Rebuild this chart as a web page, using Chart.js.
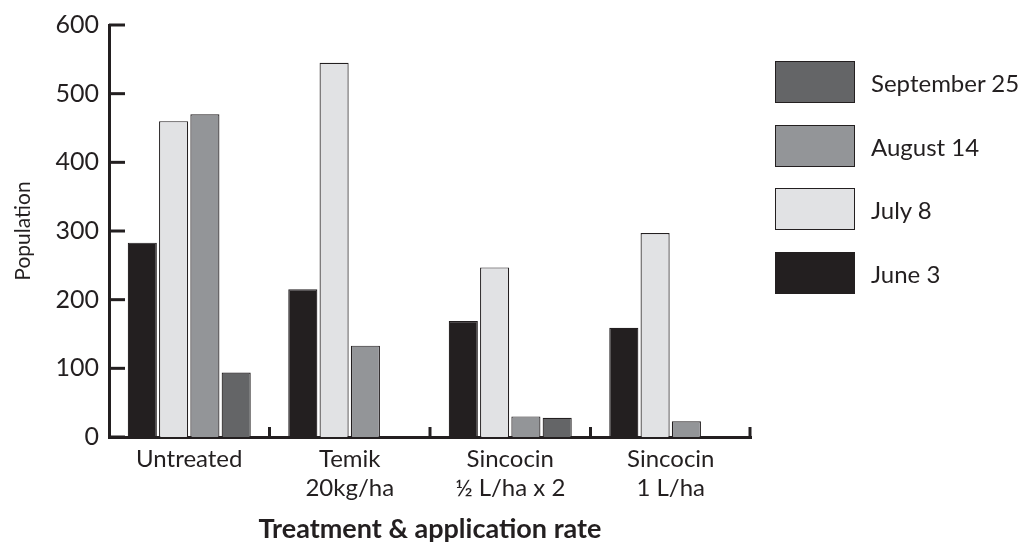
<!DOCTYPE html>
<html>
<head>
<meta charset="utf-8">
<script src="https://cdn.jsdelivr.net/npm/chart.js@4.4.0/dist/chart.umd.min.js"></script>
<style>
  html, body { margin: 0; padding: 0; background: #fff; }
  #wrap { position: relative; width: 1028px; height: 548px; }
  #legend { position: absolute; left: 775px; top: 61px; font-family: Lato, sans-serif; font-size: 24px; color: #231f20; }
  .item { position: absolute; left: 0; height: 43px; white-space: nowrap; }
  .box { position: absolute; left: 0; top: 0; width: 78px; height: 40px; border: 1.5px solid #231f20; }
  .lbl { position: absolute; left: 96px; top: 0; line-height: 43px; }
</style>
</head>
<body>
<div id="wrap">
  <canvas id="chart" width="1028" height="548"></canvas>
  <div id="legend"></div>
</div>
<script>
// categories and series
const categories = ['Untreated', ['Temik', '20kg/ha'], ['Sincocin', '½ L/ha x 2'], ['Sincocin', '1 L/ha']];
const seriesNames = ['June 3', 'July 8', 'August 14', 'September 25'];
const june3 = [283, 215, 169, 159];
const july8 = [460, 545, 247, 297];
const august14 = [470, 133, 30, 23];
const september25 = [94, null, 28, null];
const seriesColors = ['#231f20', '#e1e2e4', '#939598', '#646567'];
const yTickValues = [0, 100, 200, 300, 400, 500, 600];

const ink = '#231f20';
const seriesData = [june3, july8, august14, september25];

// legend (reverse order, like the original)
const legendEl = document.getElementById('legend');
seriesNames.slice().reverse().forEach((name, i) => {
  const idx = seriesNames.indexOf(name);
  const item = document.createElement('div');
  item.className = 'item';
  item.style.top = (i * 63.7) + 'px';
  item.innerHTML = '<div class="box" style="background:' + seriesColors[idx] + '"></div><div class="lbl">' + name + '</div>';
  legendEl.appendChild(item);
});

// inward tick marks on both axes
const innerTicks = {
  id: 'innerTicks',
  afterDraw(chart) {
    const { ctx, chartArea, scales: { x, y } } = chart;
    ctx.save();
    ctx.strokeStyle = ink;
    ctx.lineWidth = 3;
    yTickValues.forEach(v => {
      const py = y.getPixelForValue(v);
      ctx.beginPath(); ctx.moveTo(chartArea.left, py); ctx.lineTo(chartArea.left + 16, py); ctx.stroke();
    });
    const half = (x.getPixelForValue(1) - x.getPixelForValue(0)) / 2;
    categories.forEach((c, i) => {
      const px = Math.min(x.getPixelForValue(i) + half, chartArea.right - 1);
      ctx.beginPath(); ctx.moveTo(px, chartArea.bottom); ctx.lineTo(px, chartArea.bottom - 10); ctx.stroke();
    });
    ctx.restore();
  }
};

Chart.defaults.font.family = 'Lato, sans-serif';
Chart.defaults.color = ink;

new Chart(document.getElementById('chart').getContext('2d'), {
  type: 'bar',
  data: {
    labels: categories,
    datasets: seriesNames.map((name, i) => ({
      label: name, data: seriesData[i], backgroundColor: seriesColors[i],
      borderColor: ink, borderWidth: 1.2, borderSkipped: 'bottom',
      categoryPercentage: 0.78, barPercentage: 0.93
    }))
  },
  options: {
    responsive: false, animation: false,
    layout: { padding: { top: 14, right: 277, left: 0, bottom: 0 } },
    plugins: { legend: { display: false }, tooltip: { enabled: false } },
    scales: {
      x: {
        grid: { display: false, drawTicks: false },
        border: { display: true, width: 3, color: ink },
        ticks: { font: { size: 24 }, padding: 8, maxRotation: 0, autoSkip: false },
        title: { display: true, text: 'Treatment & application rate', font: { size: 27, weight: 'bold' }, padding: { top: 0, bottom: 3 } },
        afterFit: s => { s.height = 111; }
      },
      y: {
        min: 0, max: 600,
        grid: { display: false, drawTicks: false },
        border: { display: true, width: 3, color: ink },
        ticks: { stepSize: 100, font: { size: 25 }, padding: 10 },
        title: { display: true, text: 'Population', font: { size: 21 }, padding: { top: 11, bottom: 0 } },
        afterFit: s => { s.width = 109; }
      }
    }
  },
  plugins: [innerTicks]
});
</script>
</body>
</html>
